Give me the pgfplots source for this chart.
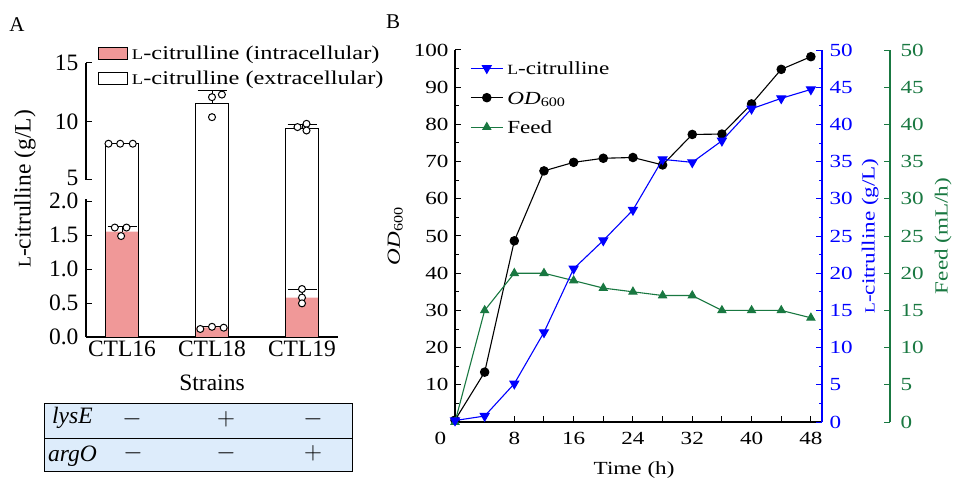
\documentclass[border=0pt]{standalone}
\usepackage{fontspec}
\setmainfont{Liberation Serif}
\newfontfamily\bfont{Liberation Serif}[FakeStretch=1.25]
\usepackage{pgfplots}
\pgfplotsset{compat=1.18}

\definecolor{barpink}{RGB}{240,152,152}
\definecolor{tabblue}{RGB}{221,236,251}
\definecolor{feedgreen}{RGB}{25,120,65}
\definecolor{citblue}{RGB}{0,0,255}
\newcommand{\Lsc}{\scalebox{0.76}{L}}
\newcommand{\fA}{\fontsize{23.5}{26}\selectfont}
\newcommand{\fB}{\bfont\fontsize{18.5}{21}\selectfont}

\pgfplotsset{
  panelB/.style={scale only axis, width=367pt, height=372pt, xmin=0, xmax=49.5,
    font=\fB, /pgf/number format/assume math mode=true,
    tick align=inside, major tick length=6pt, minor tick length=3.5pt,
    axis line style={line width=1.1pt}},
  dots/.style={only marks, mark=*, mark size=3.5pt,
    mark options={line width=1pt, fill=white, draw=black}, forget plot},
  errA/.style={error bars/.cd, y dir=plus, y explicit,
    error bar style={black, line width=1pt},
    error mark options={black, rotate=90, mark size=14.5pt, line width=1pt}},
}

\begin{document}
\begin{tikzpicture}[font=\fA]
\useasboundingbox (0pt,0pt) rectangle (955pt,482pt);

% ---------------- panel A: broken y axis (0-2.31 | 5-15) in one axis
% above the break one unit is 0.17206 of a unit below it
\begin{axis}[scale only axis, width=252pt, height=274pt,
  at={(86pt,145pt)}, anchor=south west,
  xmin=-0.4, xmax=2.4, ymin=0, ymax=15,
  y coord trafo/.code={\pgfmathparse{(#1<=2.31)*#1 + (#1>2.31)*(#1<5)*2.31 + (#1>=5)*(2.31+(#1-5)*0.17206)}},
  y coord inv trafo/.code={\pgfmathparse{(#1<=2.31)*#1 + (#1>2.31)*(5+(#1-2.31)/0.17206)}},
  font=\fA, /pgf/number format/assume math mode=true,
  clip=false,
  axis x line*=bottom, axis y line*=left,
  axis line style={line width=1.1pt},
  y axis line style={draw=none},
  tick align=inside, major tick length=6pt,
  tick style={black, line width=1pt},
  ytick={0,0.5,1,1.5,2,5,10,15},
  yticklabels={0.0,0.5,1.0,1.5,\raisebox{-1pt}{2.0},\raisebox{4pt}{5},10,15},
  yticklabel style={xshift=-4pt, inner ysep=0pt},
  xtick={0,1,2}, xticklabels={CTL16,CTL18,CTL19},
  x tick style={draw=none},
  xlabel={Strains},
  xlabel style={at={(axis description cs:0.5,-0.166)}, anchor=center},
  ylabel={\Lsc-citrulline (g/L)},
  ylabel style={at={(axis description cs:-0.242,0.540)}, anchor=center},
  legend style={draw=none, fill=none, inner sep=0pt,
    at={(rel axis cs:0.0476,1.0693)}, anchor=north west,
    font=\bfont\fontsize{19.5}{22}\selectfont, row sep=7pt,
    nodes={inner xsep=4pt, inner ysep=0pt, text height=15pt, text depth=3pt}},
  legend cell align=left,
]
% broken axis line
\draw[line width=1.1pt] (axis cs:-0.4,0) -- (axis cs:-0.4,2.03);
\draw[line width=1.1pt] (axis cs:-0.4,5) -- (axis cs:-0.4,15);
% intracellular
\addplot[ybar, bar width=33pt, bar shift=0pt, fill=barpink, draw=none,
  legend image code/.code={\draw[fill=barpink, draw=black, line width=0.8pt] (0pt,-6pt) rectangle (29pt,6pt);},
  errA]
  coordinates {(0,1.55) +- (0,0.08) (1,0.14) +- (0,0.02) (2,0.58) +- (0,0.12)};
\addlegendentry{\Lsc-citrulline (intracellular)}
% extracellular (bar drawn to the total titre); the errors are added after the
% axis transform, so the SDs 0.04, 1.15, 0.33 g/L are given times 0.17206
\addplot[ybar, bar width=33pt, bar shift=0pt, fill=none, draw=black, line width=1pt,
  legend image code/.code={\draw[black, line width=0.8pt, fill=white] (0pt,-6pt) rectangle (29pt,6pt);},
  errA]
  coordinates {(0,8.1) +- (0,0.0069) (1,11.5) +- (0,0.1979) (2,9.4) +- (0,0.0568)};
\addlegendentry{\Lsc-citrulline (extracellular)}
% replicates
\addplot[dots] coordinates {
  (-0.08,1.61) (0.05,1.61) (-0.01,1.485)
  (0.87,0.118) (1,0.15) (1.13,0.137)
  (2,0.706) (2,0.58) (2,0.495)
  (-0.15,8.1) (-0.02,8.1) (0.12,8.1)
  (1,12.08) (1.11,12.3) (1,10.37)
  (1.95,9.52) (2.05,9.8) (2.05,9.23)
};
\end{axis}

% ---------------- table under panel A
\draw[fill=tabblue, line width=1pt] (44pt,11pt) rectangle (352pt,79pt);
\draw[line width=1pt] (44pt,44pt) -- (352pt,44pt);
\node[anchor=base west, inner sep=0pt] at (52pt,59pt) {\textit{lysE}};
\node[anchor=base west, inner sep=0pt] at (48pt,20.3pt) {\textit{argO}};
\node[inner sep=0pt] at (132pt,63pt) {$-$};
\node[inner sep=0pt] at (226pt,63pt) {$+$};
\node[inner sep=0pt] at (313pt,63pt) {$-$};
\node[inner sep=0pt] at (133pt,29pt) {$-$};
\node[inner sep=0pt] at (226pt,29pt) {$-$};
\node[inner sep=0pt] at (313pt,29pt) {$+$};

\node[font=\fontsize{21}{24}\selectfont] at (17pt,457pt) {A};
\node[font=\fontsize{21}{24}\selectfont] at (393pt,460pt) {B};

% ---------------- panel B, OD600 (left axis)
\begin{axis}[panelB, at={(455pt,60pt)}, anchor=south west,
  ymin=0, ymax=100,
  axis x line*=bottom, axis y line*=left,
  tick style={black, line width=1pt},
  xtick={4,8,...,48}, xticklabels={,8,,16,,24,,32,,40,,48},
  extra x ticks={0}, extra x tick labels={0},
  extra x tick style={major tick length=0pt, xticklabel style={xshift=-14.5pt}},
  xticklabel style={yshift=-7pt},
  ytick={0,10,...,100}, yticklabels={,10,20,30,40,50,60,70,80,90,100},
  minor y tick num=1,
  yticklabel style={xshift=-3pt},
  xlabel={Time (h)},
  xlabel style={at={(axis description cs:0.488,-0.129)}, anchor=center},
  ylabel={\textit{OD}\textsubscript{600}},
  ylabel style={at={(axis description cs:-0.163,0.5)}, anchor=center},
  legend image code/.code={\draw[mark repeat=2, mark phase=2, #1] plot coordinates {(0pt,0pt) (16pt,0pt) (32pt,0pt)};},
  legend style={draw=none, fill=none, inner sep=0pt,
    at={(rel axis cs:0.041,0.9745)}, anchor=north west, row sep=12.5pt,
    nodes={inner xsep=4pt, inner ysep=0pt, text height=15pt, text depth=2pt}},
  legend cell align=left,
]
\addlegendimage{citblue, line width=1.1pt, mark=triangle*, mark size=5pt, mark options={rotate=180}}
\addlegendentry{\Lsc-citrulline}
\addplot[black, line width=1.1pt, mark=*, mark size=4.2pt] coordinates {
  (0,0.5) (4,13.4) (8,48.7) (12,67.5) (16,69.8) (20,70.9) (24,71.1)
  (28,69.1) (32,77.3) (36,77.4) (40,85.5) (44,94.8) (48,98.2)
};
\addlegendentry{\textit{OD}\textsubscript{600}}
\addlegendimage{feedgreen, line width=1.1pt, mark=triangle*, mark size=4.5pt}
\addlegendentry{Feed}
\end{axis}

% ---------------- panel B, feed (offset right axis)
\begin{axis}[panelB, at={(455pt,60pt)}, anchor=south west,
  width=435pt, xmax=58.67, ymin=0, ymax=50,
  axis x line=none, axis y line*=right,
  y axis line style={feedgreen},
  ytick={0,5,...,50},
  tick style={feedgreen, line width=1pt},
  yticklabel style={feedgreen, xshift=7pt},
  ylabel={Feed (mL/h)},
  ylabel style={feedgreen, at={(axis description cs:1.122,0.5)}, anchor=center},
]
\addplot[feedgreen, line width=1.1pt, mark=triangle*, mark size=4.5pt] coordinates {
  (0,0) (4,15) (8,20) (12,20) (16,19) (20,18) (24,17.5)
  (28,17) (32,17) (36,15) (40,15) (44,15) (48,14)
};
\end{axis}

% ---------------- panel B, L-citrulline (right axis)
\begin{axis}[panelB, at={(455pt,60pt)}, anchor=south west,
  ymin=0, ymax=50,
  axis x line=none, axis y line*=right,
  y axis line style={citblue},
  ytick={0,5,...,50}, minor y tick num=1,
  tick style={citblue, line width=1pt},
  yticklabel style={citblue, xshift=4pt},
  ylabel={\Lsc-citrulline (g/L)},
  ylabel style={citblue, at={(axis description cs:1.131,0.5)}, anchor=center},
]
\addplot[citblue, line width=1.1pt, mark=triangle*, mark size=5pt, mark options={rotate=180}] coordinates {
  (0,0.2) (4,0.8) (8,5.15) (12,12.05) (16,20.6) (20,24.4) (24,28.5)
  (28,35.3) (32,34.9) (36,37.8) (40,42.1) (44,43.5) (48,44.7)
};
\end{axis}
\end{tikzpicture}
\end{document}
